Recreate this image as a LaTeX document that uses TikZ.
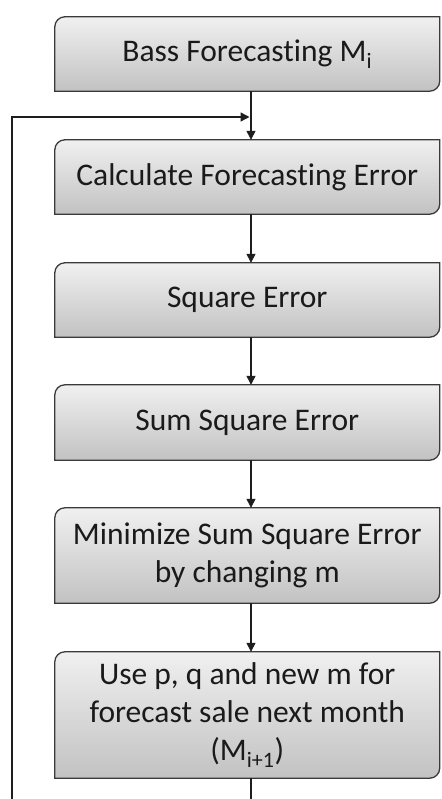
\documentclass[tikz,border=0pt]{standalone}
\usepackage{fontspec}
\setmainfont{Carlito}[Ligatures=CommonOff]
\usetikzlibrary{arrows.meta,backgrounds}
\definecolor{boxtop}{HTML}{F0F0F0}
\definecolor{boxbot}{HTML}{C2C2C2}
\definecolor{edge}{HTML}{3A3A3A}
\definecolor{wire}{HTML}{1E1E1E}
\definecolor{ink}{HTML}{1A1A1A}
\tikzset{
  stepbox/.style={minimum width=384.5pt, inner sep=0pt, align=center,
    font=\fontsize{31.5}{38}\selectfont, text=ink},
  wireline/.style={draw=wire, line width=1.4pt},
  flow/.style={wireline, -{Triangle[width=9pt,length=9pt]}},
  boxface/.style={top color=boxtop, bottom color=boxbot, draw=edge, line width=1.3pt},
  boxshade/.style={fill=black, opacity=.18},
}
% box outline with rounded top-left and bottom-right corners
\newcommand\cornerpath[1]{%
  (#1.south west) -- ([yshift=-10pt]#1.north west)
  .. controls ([yshift=-4.5pt]#1.north west) and ([xshift=4.5pt]#1.north west) .. ([xshift=10pt]#1.north west)
  -- (#1.north east) -- ([yshift=10pt]#1.south east)
  .. controls ([yshift=4.5pt]#1.south east) and ([xshift=-4.5pt]#1.south east) .. ([xshift=-10pt]#1.south east)
  -- cycle}
\newcommand\drawstep[1]{%
  \path[boxshade] [shift={(1.2pt,-1.6pt)}] \cornerpath{#1};
  \path[boxface] \cornerpath{#1};}
\begin{document}
\begin{tikzpicture}[x=1pt,y=-1pt]
  \clip (0,0) rectangle (441,799);

  \node[stepbox, minimum height=74pt]  (b1) at (247.25,54)    {Bass Forecasting M\textsubscript{i}};
  \node[stepbox, minimum height=74pt]  (b2) at (247.25,177)   {Calculate Forecasting Error};
  \node[stepbox, minimum height=74pt]  (b3) at (247.25,300)   {Square Error};
  \node[stepbox, minimum height=75pt]  (b4) at (247.25,422.5) {Sum Square Error};
  \node[stepbox, minimum height=95pt]  (b5) at (247.25,555.5) {Minimize Sum Square Error\\by changing m};
  \node[stepbox, minimum height=126pt] (b6) at (247.25,715)   {Use p, q and new m for\\forecast sale next month\\(M\textsubscript{i+1})};

  \begin{scope}[on background layer]
    \foreach \n in {b1,b2,b3,b4,b5,b6} {\drawstep{\n}}
  \end{scope}

  % straight flow between the steps
  \draw[flow] ([xshift=3.75pt]b1.south) -- ([xshift=3.75pt]b2.north);
  \draw[flow] ([xshift=3.75pt]b2.south) -- ([xshift=3.75pt]b3.north);
  \draw[flow] ([xshift=3.75pt]b3.south) -- ([xshift=3.75pt]b4.north);
  \draw[flow] ([xshift=3.75pt]b4.south) -- ([xshift=3.75pt]b5.north);
  \draw[flow] ([xshift=3.75pt]b5.south) -- ([xshift=3.75pt]b6.north);

  % feedback loop back to the top
  \coordinate (lowleft) at (12,815);
  \coordinate (merge) at (249.5,117);
  \draw[flow] ([xshift=3.75pt]b6.south) |- (lowleft) |- (merge);
\end{tikzpicture}
\end{document}
